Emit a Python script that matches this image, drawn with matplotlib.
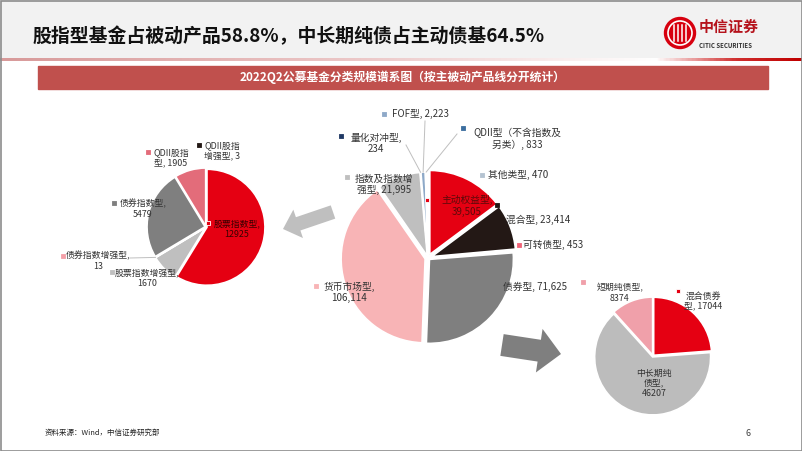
import numpy as np
import matplotlib.pyplot as plt
from matplotlib.patches import Rectangle, FancyArrow, Circle
from matplotlib.colors import LinearSegmentedColormap

plt.rcParams['font.family'] = ['Noto Sans CJK SC', 'DejaVu Sans']

W, H = 802, 451

# ---- data ----
main_names = ['主动权益型', '混合型', '可转债型', '债券型', '货币市场型',
              '指数及指数增强型', '量化对冲型', 'FOF型', 'QDII型（不含指数及另类）', '其他类型']
main_values = [39505, 23414, 453, 71625, 106114, 21995, 234, 2223, 833, 470]
main_colors = ['#E50012', '#231815', '#F06478', '#7F7F7F', '#F8B4B6',
               '#BFBFBF', '#1F3864', '#8EA9C8', '#3C6E9F', '#B4C3D1']

index_names = ['股票指数型', '股票指数增强型', '债券指数增强型', '债券指数型', 'QDII股指型', 'QDII股指增强型']
index_values = [12925, 1670, 13, 5479, 1905, 3]
index_colors = ['#E50012', '#BFBFBF', '#F4A0A8', '#7F7F7F', '#E36C7A', '#231815']

bond_names = ['混合债券型', '中长期纯债型', '短期纯债型']
bond_values = [17044, 46207, 8374]
bond_colors = ['#E50012', '#BCBCBC', '#F0A0AA']

title = '股指型基金占被动产品58.8%，中长期纯债占主动债基64.5%'
banner = '2022Q2公募基金分类规模谱系图（按主被动产品线分开统计）'
source = '资料来源：Wind，中信证券研究部'

# ---- layout (image pixel coords, y down) ----
# label centre x, y, marker x, y, line-break positions
main_lay = [(467, 206, 427, 200, [6]), (538, 220, 497, 205, []), (553, 245, 519, 245, []),
            (535, 287, 492, 287, []), (349, 292, 316, 286, [6]), (384, 184, 347, 177, [6]),
            (376, 143, 341, 136, [6]), (420, 114, 384, 114, []), (517, 139, 463, 128, [11]),
            (518, 175, 482, 175, [])]
index_lay = [(237, 229, 208, 223, [6]), (147, 278, 112, 272, [8]), (98, 261, 63, 256, [8]),
             (143, 209, 114, 203, [6]), (171, 158, 148, 152, [6]), (222, 151, 199, 145, [6])]
bond_lay = [(703, 301, 678, 291, [4]), (654, 383, 629, 366, [4, 7]), (620, 293, 583, 282, [6])]


def wrap(s, breaks):
    parts, last = [], 0
    for b in breaks:
        parts.append(s[last:b])
        last = b
    parts.append(s[last:])
    return '\n'.join(p.strip() for p in parts)


def Y(y):
    return H - y


fig = plt.figure(figsize=(W / 100, H / 100), dpi=100)
ax = fig.add_axes([0, 0, 1, 1])

# header
ax.add_patch(Rectangle((0, Y(58)), W, 58, color='#F2F2F2', zorder=0))
cmap = LinearSegmentedColormap.from_list('hl', [(0, '#D89A9A'), (0.45, '#ECC8C8'),
                                                (0.82, '#FFFFFF'), (0.92, '#D03030'), (1, '#C00000')])
ax.imshow(np.linspace(0, 1, 400).reshape(1, -1), cmap=cmap, aspect='auto',
          extent=(0, W, Y(61), Y(58)), zorder=1)
ax.text(33, Y(36), title, fontsize=13.6, fontweight='bold', color='#111111', va='center', ha='left')

# logo
ax.add_patch(Circle((680, Y(33)), 15.5, color='#D7000F', zorder=2))
ax.add_patch(Circle((680, Y(33)), 12, fill=False, ec='white', lw=1.2, zorder=3))
for dx in (-6, -2, 2, 6):
    ax.plot([680 + dx, 680 + dx], [Y(25), Y(41)], color='white', lw=1.1, zorder=3)
ax.text(699, Y(27), '中信证券', fontsize=10.8, fontweight='bold', color='#B5121B', va='center', ha='left')
ax.text(699, Y(45), 'CITIC SECURITIES', fontsize=4.4, fontweight='bold', color='#333333',
        va='center', ha='left')

# banner
ax.add_patch(Rectangle((38, Y(89)), 730, 23, color='#C0504D', zorder=1))
ax.text(403, Y(77.5), banner, fontsize=8.5, fontweight='bold', color='white', ha='center', va='center')


def draw_pie(names, values, colors, lay, cx, cy, r, fs, explode, sep=True, first_color=None):
    wedges, _ = ax.pie(values, colors=colors, center=(cx, Y(cy)), radius=r, startangle=90,
                       counterclock=False, explode=explode,
                       wedgeprops=dict(edgecolor='white', linewidth=1.2))
    for i, (n, v) in enumerate(zip(names, values)):
        tx, ty, mx, my, br = lay[i]
        s = f'{n}, {v:,}' if sep else f'{n}, {v}'
        col = '#333333'
        if i == 0 and first_color:
            col = first_color
        ax.text(tx, Y(ty), wrap(s, br), fontsize=fs, color=col, ha='center', va='center',
                linespacing=1.15, zorder=6)
        ec = 'white' if colors[i] == '#E50012' else colors[i]
        ax.scatter([mx], [Y(my)], marker='s', s=11, color=colors[i], edgecolors=ec,
                   linewidths=0.6, zorder=6)
    return wedges


mw = draw_pie(main_names, main_values, main_colors, main_lay, 428, 258, 84, 7,
              [4, 4, 2, 2, 3, 2, 2, 2, 2, 2], sep=True, first_color='#5C0A0A')
iw = draw_pie(index_names, index_values, index_colors, index_lay, 206, 227, 58, 6.4,
              [1, 1, 1, 1, 1, 1], sep=False, first_color='#3A0000')
bw = draw_pie(bond_names, bond_values, bond_colors, bond_lay, 653, 356, 58, 6.4,
              [1, 1, 1], sep=False)


def edge_point(w):
    t = np.deg2rad((w.theta1 + w.theta2) / 2)
    return w.center[0] + w.r * np.cos(t), w.center[1] + w.r * np.sin(t)


# leader lines for the small slices
for k, (sx, sy) in zip([6, 7, 8], [(406, 145), (425, 121), (457, 134)]):
    ex, ey = edge_point(mw[k])
    ax.plot([sx, ex], [Y(sy), ey], color='#BFBFBF', lw=0.7, zorder=5)
ex, ey = edge_point(iw[2])
ax.plot([130, ex], [Y(258), ey], color='#BFBFBF', lw=0.7, zorder=5)

# arrows
ax.add_patch(FancyArrow(333, Y(212), -50, -Y(212) + Y(229), width=14, head_width=30,
                        head_length=16, length_includes_head=True, color='#BFBFBF', lw=0, zorder=4))
ax.add_patch(FancyArrow(502, Y(345), 59, -9, width=22, head_width=44,
                        head_length=22, length_includes_head=True, color='#7F7F7F', lw=0, zorder=4))

# footer
ax.text(45, Y(433), source, fontsize=5.4, color='#222222', va='center', ha='left')
ax.text(745, Y(433), '6', fontsize=6.5, color='#444444', va='center', ha='left')

# frame
ax.add_patch(Rectangle((0.5, 0.5), W - 1, H - 1, fill=False, ec='#8C8C8C', lw=1.2, zorder=10))

ax.set_xlim(0, W)
ax.set_ylim(0, H)
ax.set_aspect('auto')
ax.axis('off')
fig.savefig('out.png', dpi=100)
